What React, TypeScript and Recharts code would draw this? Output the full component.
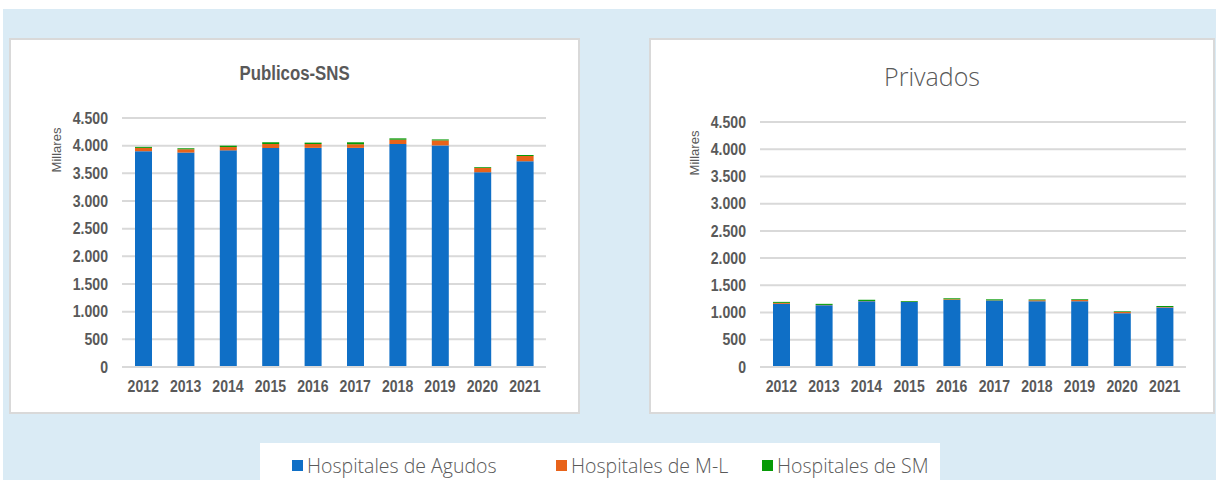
import { Bar, BarChart, CartesianGrid, XAxis, YAxis } from 'recharts';

const years = ['2012', '2013', '2014', '2015', '2016', '2017', '2018', '2019', '2020', '2021'];

// Publicos-SNS, camas en miles (aprox.)
const publicosAgudos = [3900, 3875, 3915, 3960, 3960, 3960, 4030, 4005, 3520, 3717];
const publicosML = [60, 60, 60, 72, 70, 66, 78, 90, 78, 96];
const publicosSM = [18, 18, 25, 28, 25, 35, 24, 18, 14, 18];

// Privados
const privadosAgudos = [1160, 1135, 1208, 1195, 1232, 1220, 1208, 1208, 988, 1092];
const privadosML = [18, 5, 5, 3, 12, 5, 18, 22, 22, 12];
const privadosSM = [18, 20, 22, 15, 18, 18, 15, 14, 12, 18];

const yTicks = [0, 500, 1000, 1500, 2000, 2500, 3000, 3500, 4000, 4500];

const seriesNames = ['Hospitales de Agudos', 'Hospitales de M-L', 'Hospitales de SM'];
const seriesColors = ['#0f6fc6', '#e8631a', '#079a07'];
const legendX = [292, 556, 762];

const buildRows = (a: number[], ml: number[], sm: number[]) =>
    years.map((year, i) => ({ year, agudos: a[i], ml: ml[i], sm: sm[i] }));

const fmt = (v: number) => String(v).replace(/\B(?=(\d{3})+(?!\d))/g, '.');

// narrow-looking bold tick text (no condensed font installed)
function NarrowTick(props: any) {
    const { x, y, payload, textAnchor, dy, formatter } = props;
    const label = formatter ? formatter(payload.value) : payload.value;
    return (
        <g transform={`translate(${x},${y})`}>
            <text
                transform="scale(0.88,1)"
                textAnchor={textAnchor}
                dy={dy}
                fill="#595959"
                fontSize={16}
                fontWeight={700}
                fontFamily='"Liberation Sans", Arial, sans-serif'
            >
                {label}
            </text>
        </g>
    );
}

type PanelProps = {
    left: number;
    width: number;
    title: React.ReactNode;
    titleStyle: React.CSSProperties;
    rows: ReturnType<typeof buildRows>;
    margin: { top: number; right: number; bottom: number; left: number };
    labelX: number;
    labelY: number;
};

function Panel({ left, width, title, titleStyle, rows, margin, labelX, labelY }: PanelProps) {
    const height = 372;
    return (
        <div
            style={{
                position: 'absolute',
                left,
                top: 40,
                width,
                height,
                background: '#fff',
                boxShadow: '0 0 0 2px #d9d9d9',
            }}
        >
            <div
                style={{
                    position: 'absolute',
                    left: 0,
                    width: '100%',
                    textAlign: 'center',
                    color: '#595959',
                    ...titleStyle,
                }}
            >
                {title}
            </div>
            <div
                style={{
                    position: 'absolute',
                    left: labelX,
                    top: labelY,
                    transform: 'translate(-50%, -50%) rotate(-90deg)',
                    color: '#595959',
                    fontSize: 13,
                    fontFamily: '"Liberation Sans", Arial, sans-serif',
                    whiteSpace: 'nowrap',
                }}
            >
                Millares
            </div>
            <BarChart width={width} height={height} data={rows} margin={margin} barSize={17}>
                <CartesianGrid vertical={false} stroke="#d9d9d9" strokeWidth={2} />
                <XAxis
                    dataKey="year"
                    height={25}
                    tickLine={false}
                    axisLine={{ stroke: '#d9d9d9', strokeWidth: 2 }}
                    tick={<NarrowTick textAnchor="middle" dy="0.71em" />}
                    tickMargin={8}
                />
                <YAxis
                    domain={[0, 4500]}
                    ticks={yTicks}
                    tickLine={false}
                    axisLine={false}
                    tick={<NarrowTick textAnchor="end" dy="0.355em" formatter={fmt} />}
                    width={60}
                    tickMargin={8}
                />
                <Bar dataKey="agudos" stackId="a" fill={seriesColors[0]} isAnimationActive={false} />
                <Bar dataKey="ml" stackId="a" fill={seriesColors[1]} isAnimationActive={false} />
                <Bar dataKey="sm" stackId="a" fill={seriesColors[2]} isAnimationActive={false} />
            </BarChart>
        </div>
    );
}

export default function App() {
    return (
        <div
            style={{
                position: 'absolute',
                left: 0,
                top: 0,
                width: 1216,
                height: 480,
                background: '#fff',
                overflow: 'hidden',
            }}
        >
            <div
                style={{
                    position: 'absolute',
                    left: 3,
                    top: 9,
                    right: 0,
                    bottom: 0,
                    background: '#daebf5',
                }}
            />
            <Panel
                left={11}
                width={567}
                title={
                    <span style={{ display: 'inline-block', transform: 'scaleX(0.84)' }}>
                        Publicos-SNS
                    </span>
                }
                titleStyle={{
                    top: 22,
                    lineHeight: '22px',
                    fontSize: 20,
                    fontWeight: 700,
                    fontFamily: '"Liberation Sans", Arial, sans-serif',
                }}
                rows={buildRows(publicosAgudos, publicosML, publicosSM)}
                margin={{ top: 78, right: 32, bottom: 20, left: 51 }}
                labelX={45}
                labelY={110}
            />
            <Panel
                left={651}
                width={562}
                title="Privados"
                titleStyle={{
                    top: 22,
                    lineHeight: '28px',
                    fontSize: 25,
                    fontWeight: 300,
                    fontFamily: '"Open Sans", "DejaVu Sans", sans-serif',
                }}
                rows={buildRows(privadosAgudos, privadosML, privadosSM)}
                margin={{ top: 82, right: 27, bottom: 20, left: 49 }}
                labelX={43}
                labelY={113}
            />
            <div
                style={{
                    position: 'absolute',
                    left: 260,
                    top: 443,
                    width: 680,
                    height: 37,
                    background: '#fff',
                }}
            />
            {seriesNames.map((name, i) => (
                <div
                    key={name}
                    style={{
                        position: 'absolute',
                        left: legendX[i],
                        top: 453,
                        height: 24,
                        display: 'flex',
                        alignItems: 'center',
                        fontFamily: '"Open Sans", "DejaVu Sans", sans-serif',
                        fontSize: 19.5,
                        fontWeight: 300,
                        color: '#595959',
                        whiteSpace: 'nowrap',
                    }}
                >
                    <span
                        style={{
                            display: 'inline-block',
                            width: 11,
                            height: 11,
                            marginRight: 4,
                            background: seriesColors[i],
                        }}
                    />
                    {name}
                </div>
            ))}
        </div>
    );
}
